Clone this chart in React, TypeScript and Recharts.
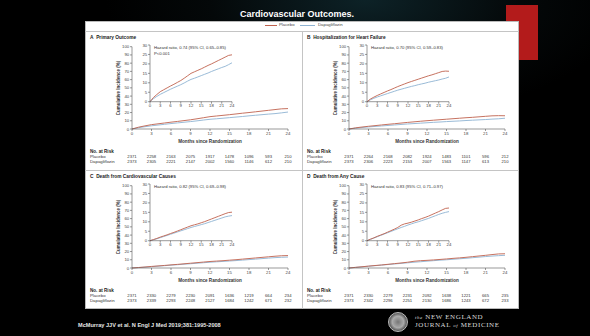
import React from 'react';
import { LineChart, Line, XAxis, YAxis } from 'recharts';

const FONT = '"Liberation Sans", Arial, sans-serif';
const PLACEBO = '#c0624e';
const DAPA = '#8fb3d2';

const slideTitle = 'Cardiovascular Outcomes.';
const citation = 'McMurray JJV et al. N Engl J Med 2019;381:1995-2008';
const legendLabels = ['Placebo', 'Dapagliflozin'];

const monthTicks = [0, 3, 6, 9, 12, 15, 18, 21, 24];
const mainYTicks = [0, 10, 20, 30, 40, 50, 60, 70, 80, 90, 100];
const insetYTicks = [0, 5, 10, 15, 20, 25, 30];
const curveMonths = [0, 1, 2, 3, 4, 5, 6, 7, 8, 9, 10, 11, 12, 13, 14, 15, 16, 17, 18, 19, 20, 21, 22, 23, 24];

const panelLetters = ['A', 'B', 'C', 'D'];
const panelTitles = [
  'Primary Outcome',
  'Hospitalization for Heart Failure',
  'Death from Cardiovascular Causes',
  'Death from Any Cause',
];
const hazardTexts = [
  'Hazard ratio, 0.74 (95% CI, 0.65–0.85)',
  'Hazard ratio, 0.70 (95% CI, 0.59–0.83)',
  'Hazard ratio, 0.82 (95% CI, 0.69–0.98)',
  'Hazard ratio, 0.83 (95% CI, 0.71–0.97)',
];
const pValueTexts = ['P<0.001', '', '', ''];

const placeboA = [0, 2.2, 3.8, 5.3, 6.3, 7.3, 8.3, 9.2, 10.2, 11.2, 12.4, 13.7, 15.0, 15.8, 16.6, 17.4, 18.3, 19.2, 20.0, 20.9, 21.8, 22.7, 23.6, 24.5, 24.8];
const dapaA = [0, 1.6, 2.8, 3.9, 4.8, 5.7, 6.6, 7.4, 8.2, 9.0, 9.9, 10.9, 11.8, 12.4, 13.1, 13.8, 14.5, 15.2, 16.0, 16.7, 17.4, 18.1, 18.7, 19.6, 20.6];
const placeboB = [0, 1.4, 2.4, 3.3, 4.1, 4.9, 5.7, 6.4, 7.2, 8.0, 8.7, 9.4, 10.1, 10.7, 11.3, 11.9, 12.5, 13.1, 13.7, 14.2, 14.8, 15.4, 16.0, 16.2, 16.1];
const dapaB = [0, 1.0, 1.8, 2.5, 3.1, 3.7, 4.3, 4.9, 5.5, 6.1, 6.6, 7.1, 7.6, 8.1, 8.5, 9.0, 9.4, 9.8, 10.3, 10.7, 11.1, 11.5, 12.0, 12.4, 13.1];
const placeboC = [0, 0.6, 1.2, 1.9, 2.5, 3.1, 3.8, 4.4, 5.1, 5.8, 6.5, 7.2, 7.9, 8.4, 8.9, 9.5, 10.1, 10.8, 11.5, 12.2, 12.9, 13.6, 14.3, 14.9, 15.1];
const dapaC = [0, 0.5, 1.0, 1.6, 2.2, 2.8, 3.4, 4.0, 4.6, 5.2, 5.8, 6.4, 7.0, 7.5, 8.0, 8.5, 9.0, 9.6, 10.2, 10.8, 11.4, 12.0, 12.6, 13.0, 13.3];
const placeboD = [0, 0.8, 1.5, 2.3, 3.0, 3.7, 4.5, 5.3, 6.1, 7.0, 8.2, 8.9, 9.3, 9.8, 10.4, 11.0, 11.7, 12.3, 13.0, 13.8, 14.6, 15.4, 16.3, 17.1, 17.3];
const dapaD = [0, 0.7, 1.4, 2.1, 2.8, 3.5, 4.2, 4.9, 5.6, 6.3, 7.0, 7.6, 8.3, 8.9, 9.5, 10.0, 10.6, 11.2, 11.8, 12.5, 13.2, 13.9, 14.5, 15.0, 15.4];

const riskPlaceboA = [2371, 2258, 2163, 2075, 1917, 1478, 1096, 593, 210];
const riskDapaA = [2373, 2305, 2221, 2147, 2002, 1560, 1146, 612, 210];
const riskPlaceboB = [2371, 2264, 2168, 2082, 1924, 1483, 1101, 596, 212];
const riskDapaB = [2373, 2306, 2223, 2153, 2007, 1563, 1147, 613, 210];
const riskPlaceboC = [2371, 2330, 2279, 2230, 2091, 1636, 1219, 664, 234];
const riskDapaC = [2373, 2339, 2293, 2248, 2127, 1684, 1242, 671, 232];
const riskPlaceboD = [2371, 2330, 2279, 2231, 2092, 1638, 1221, 665, 235];
const riskDapaD = [2373, 2342, 2296, 2251, 2130, 1686, 1243, 672, 233];

const placeboSeries = [placeboA, placeboB, placeboC, placeboD];
const dapaSeries = [dapaA, dapaB, dapaC, dapaD];
const riskPlacebo = [riskPlaceboA, riskPlaceboB, riskPlaceboC, riskPlaceboD];
const riskDapa = [riskDapaA, riskDapaB, riskDapaC, riskDapaD];

function Txt(props: any) {
  const { x, y, size = 4.5, bold = false, anchor = 'start', color = '#333', children, style } = props;
  const tx = anchor === 'middle' ? '-50%' : anchor === 'end' ? '-100%' : '0';
  return (
    <div
      style={{
        position: 'absolute',
        left: x,
        top: y,
        transform: `translate(${tx},-50%)`,
        fontSize: size,
        fontWeight: bold ? 700 : 400,
        color,
        whiteSpace: 'nowrap',
        lineHeight: 1,
        fontFamily: FONT,
        ...style,
      }}
    >
      {children}
    </div>
  );
}

const axisStroke = { stroke: '#555', strokeWidth: 0.6 };
const tickStyle = { fontSize: 4.3, fill: '#444', fontFamily: FONT };

function Panel({ i }: { i: number }) {
  const dx = (i % 2) * 217;
  const dy = Math.floor(i / 2) * 139;
  const data = curveMonths.map((m, k) => ({ m, placebo: placeboSeries[i][k], dapa: dapaSeries[i][k] }));
  const colX = (k: number) => 132 + dx + k * 19.5;
  return (
    <>
      <Txt x={90 + dx} y={37.7 + dy} size={4.8} bold color="#222">
        {panelLetters[i]}&nbsp;&nbsp;{panelTitles[i]}
      </Txt>
      <div style={{ position: 'absolute', left: 85 + dx, top: 40 + dy }}>
        <LineChart width={217} height={100} data={data} margin={{ top: 6.7, right: 14, bottom: 3, left: 31 }}>
          <XAxis dataKey="m" type="number" domain={[0, 24]} ticks={monthTicks} interval={0} height={8}
            tickSize={2} tickMargin={0.5} tick={tickStyle} axisLine={axisStroke} tickLine={axisStroke} />
          <YAxis type="number" domain={[0, 100]} ticks={mainYTicks} interval={0} width={16}
            tickSize={2} tickMargin={0.8} tick={tickStyle} axisLine={axisStroke} tickLine={axisStroke} />
          <Line dataKey="dapa" stroke={DAPA} strokeWidth={0.9} dot={false} isAnimationActive={false} />
          <Line dataKey="placebo" stroke={PLACEBO} strokeWidth={0.9} dot={false} isAnimationActive={false} />
        </LineChart>
      </div>
      <div style={{ position: 'absolute', left: 135 + dx, top: 40 + dy }}>
        <LineChart width={105} height={72} data={data} margin={{ top: 5, right: 8, bottom: 2.3, left: 5 }}>
          <XAxis dataKey="m" type="number" domain={[0, 24]} ticks={monthTicks} interval={0} height={8}
            tickSize={2} tickMargin={0.5} tick={tickStyle} axisLine={axisStroke} tickLine={axisStroke} />
          <YAxis type="number" domain={[0, 30]} ticks={insetYTicks} interval={0} width={10}
            tickSize={2} tickMargin={0.8} tick={tickStyle} axisLine={axisStroke} tickLine={axisStroke} />
          <Line dataKey="dapa" stroke={DAPA} strokeWidth={0.9} dot={false} isAnimationActive={false} />
          <Line dataKey="placebo" stroke={PLACEBO} strokeWidth={0.9} dot={false} isAnimationActive={false} />
        </LineChart>
      </div>
      <Txt x={154 + dx} y={47.7 + dy} size={4.2} color="#333">{hazardTexts[i]}</Txt>
      {pValueTexts[i] ? <Txt x={154 + dx} y={53.7 + dy} size={4.2} color="#333">{pValueTexts[i]}</Txt> : null}
      <Txt x={119 + dx} y={88 + dy} size={4.5} bold color="#333"
        style={{ transform: 'translate(-50%,-50%) rotate(-90deg)' }}>Cumulative Incidence (%)</Txt>
      <Txt x={210 + dx} y={142 + dy} size={4.6} bold anchor="middle" color="#333">Months since Randomization</Txt>
      <Txt x={90 + dx} y={151.5 + dy} size={4.6} bold color="#222">No. at Risk</Txt>
      <Txt x={90 + dx} y={157 + dy} size={4.3} color="#333">{legendLabels[0]}</Txt>
      <Txt x={90 + dx} y={162 + dy} size={4.3} color="#333">{legendLabels[1]}</Txt>
      {riskPlacebo[i].map((v, k) => (
        <Txt key={'p' + k} x={colX(k)} y={157 + dy} size={4.2} anchor="middle" color="#333">{v}</Txt>
      ))}
      {riskDapa[i].map((v, k) => (
        <Txt key={'d' + k} x={colX(k)} y={162 + dy} size={4.2} anchor="middle" color="#333">{v}</Txt>
      ))}
    </>
  );
}

export default function App() {
  return (
    <div
      style={{
        position: 'absolute',
        left: 0,
        top: 0,
        width: 590,
        height: 336,
        overflow: 'hidden',
        background: 'radial-gradient(ellipse 260px 120px at 62% 0%, #0d2227 0%, #040809 60%, #000 100%)',
        fontFamily: FONT,
      }}
    >
      <div style={{ position: 'absolute', left: 506, top: 5, width: 32, height: 55, background: '#b31b1b' }} />
      <Txt x={297} y={14} size={9} bold anchor="middle" color="#fff">{slideTitle}</Txt>
      <div style={{ position: 'absolute', left: 85, top: 21, width: 434, height: 288, background: '#fff', boxSizing: 'border-box', border: '0.7px solid #bbb' }} />
      <div style={{ position: 'absolute', left: 265, top: 25, width: 12, height: 0.8, background: PLACEBO }} />
      <Txt x={279} y={25} size={4.3} color="#444">{legendLabels[0]}</Txt>
      <div style={{ position: 'absolute', left: 300, top: 25, width: 15, height: 0.8, background: DAPA }} />
      <Txt x={318} y={25} size={4.3} color="#444">{legendLabels[1]}</Txt>
      <div style={{ position: 'absolute', left: 85, top: 31.3, width: 434, height: 0.7, background: '#c4c4c4' }} />
      <div style={{ position: 'absolute', left: 302, top: 32, width: 0.7, height: 277, background: '#c4c4c4' }} />
      <div style={{ position: 'absolute', left: 85, top: 169.5, width: 434, height: 0.7, background: '#c4c4c4' }} />
      {[0, 1, 2, 3].map((i) => <Panel key={i} i={i} />)}
      <Txt x={78} y={326} size={5.6} bold color="#e6e6e6">{citation}</Txt>
      <div style={{ position: 'absolute', left: 388, top: 312, width: 20, height: 20, borderRadius: '50%', background: 'radial-gradient(circle, #777 0%, #aaa 45%, #555 70%, #999 100%)', border: '0.8px solid #bbb', boxSizing: 'border-box' }} />
      <div style={{ position: 'absolute', left: 415, top: 313.5, fontFamily: '"Liberation Serif", "DejaVu Serif", serif', fontSize: 7, color: '#d8d8d8', letterSpacing: 0.6, lineHeight: 1, whiteSpace: 'nowrap' }}>
        <span style={{ fontStyle: 'italic', fontSize: 5 }}>the</span> NEW ENGLAND
      </div>
      <div style={{ position: 'absolute', left: 415, top: 321.5, fontFamily: '"Liberation Serif", "DejaVu Serif", serif', fontSize: 7, color: '#d8d8d8', letterSpacing: 0.6, lineHeight: 1, whiteSpace: 'nowrap' }}>
        JOURNAL <span style={{ fontStyle: 'italic', fontSize: 5 }}>of</span> MEDICINE
      </div>
    </div>
  );
}
